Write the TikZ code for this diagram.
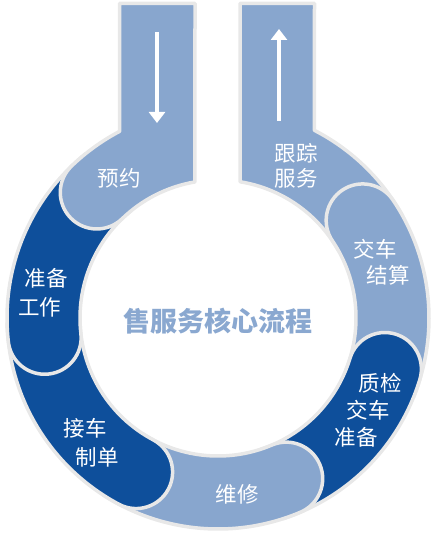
\documentclass[tikz,border=0pt]{standalone}
\usepackage{fontspec}
\newfontfamily\cjk{Noto Sans CJK SC}
\usetikzlibrary{arrows.meta}
\definecolor{lightseg}{HTML}{88A6CE}
\definecolor{darkseg}{HTML}{0E4F9B}
\definecolor{ringline}{HTML}{E8E8E8}
\definecolor{titleblue}{HTML}{8AA8D0}
\newcommand\ringseg[3]{%
  \draw[#1] (#2:211) arc[start angle=#2, end angle=#3, radius=211]
    arc[start angle=#3, end angle=#3+180, radius=36.5]
    arc[start angle=#3, end angle=#2, radius=138] -- cycle;}
\begin{document}
\begin{tikzpicture}[x=1pt,y=1pt,
  seg/.style={draw=ringline, line width=3.5pt, line join=round},
  lightpart/.style={seg, fill=lightseg},
  darkpart/.style={seg, fill=darkseg},
  lab/.style={text=white, font=\cjk\fontsize{21.5}{26}\selectfont, inner sep=0pt},
  flowarrow/.style={draw=white, line width=4.5pt, -{Triangle[width=16pt,length=11pt]}}]
\useasboundingbox (0,0) rectangle (434,536);
\begin{scope}[shift={(218,218)}]
  % follow-up service (with right bar)
  \draw[lightpart] (29:211) arc[start angle=29, end angle=62.8, radius=211]
    -- (96.5,314.5) -- (22,314.5) -- (80.8:138)
    arc[start angle=80.8, end angle=29, radius=138] -- cycle;
  \ringseg{lightpart}{-22}{34}
  \ringseg{darkpart}{288}{343}
  \ringseg{lightpart}{237}{293}
  \ringseg{darkpart}{181.5}{242}
  \ringseg{darkpart}{129}{186.5}
  % appointment (with left bar)
  \draw[lightpart] (-23,314.5) -- (-98.5,314.5) -- (117.8:211)
    arc[start angle=117.8, end angle=134, radius=211]
    arc[start angle=134, end angle=314, radius=36.5]
    arc[start angle=134, end angle=99.6, radius=138] -- cycle;
\end{scope}
\coordinate (inTop) at (157,504);
\coordinate (inTip) at (157,413);
\coordinate (outTail) at (279,415);
\coordinate (outTip) at (279,507);
\draw[flowarrow] (inTop) -- (inTip);
\draw[flowarrow] (outTail) -- (outTip);
\node[lab] (yuyue) at (119,358) {预约};
\node[lab] (zhunbei1) at (46,258) {准备};
\node[lab] (gongzuo) at (40,229) {工作};
\node[lab] (jieche) at (85,108) {接车};
\node[lab] (zhidan) at (97,79) {制单};
\node[lab] (weixiu) at (237,42) {维修};
\node[lab] (zhijian) at (380,153) {质检};
\node[lab] (jiaoche1) at (368,126) {交车};
\node[lab] (zhunbei2) at (356,99) {准备};
\node[lab] (jiaoche2) at (375,287) {交车};
\node[lab] (jiesuan) at (388,261) {结算};
\node[lab] (genzong) at (296,383) {跟踪};
\node[lab] (fuwu) at (296,358) {服务};
\node[text=titleblue, font=\cjk\bfseries\fontsize{27}{32}\selectfont, inner sep=0pt] (title) at (218,215) {售服务核心流程};
\end{tikzpicture}
\end{document}
